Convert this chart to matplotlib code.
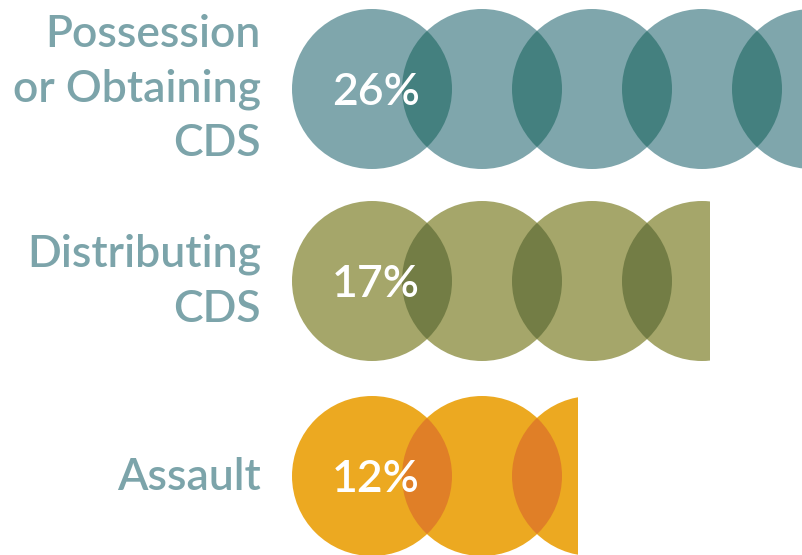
import matplotlib.pyplot as plt
from matplotlib.patches import Circle, Rectangle

# data
categories = ["Possession\nor Obtaining\nCDS", "Distributing\nCDS", "Assault"]
values = [26, 17, 12]
value_labels = ["26%", "17%", "12%"]

base_colors = ["#7fa6ac", "#a5a66a", "#eca921"]
overlap_colors = ["#44807f", "#737d45", "#e07f27"]
label_color = "#7ca4aa"

# layout, in percent units (1 unit = 26.4 px)
PX = 26.4
R = 80 / PX          # circle radius
STEP = 110 / PX      # distance between circle centres
X0 = 111 / PX        # first circle centre
row_y = [89 / PX, 281 / PX, 476 / PX]

fig = plt.figure(figsize=(8.02, 5.55), dpi=100)
ax = fig.add_axes([0, 0, 1, 1])
ax.set_xlim(-261 / PX, (802 - 261) / PX)
ax.set_ylim(555 / PX, 0)
ax.set_aspect("equal")
ax.axis("off")

for cat, val, txt, y, c, oc in zip(categories, values, value_labels, row_y,
                                   base_colors, overlap_colors):
    clip = Rectangle((0, y - R - 1), val, 2 * R + 2, transform=ax.transData)
    centers = []
    cx = X0
    while cx - R < val:
        centers.append(cx)
        cx += STEP
    prev = None
    for cx in centers:
        circ = Circle((cx, y), R, fc=c, ec="none", zorder=1)
        ax.add_patch(circ)
        circ.set_clip_path(clip)
        if prev is not None:
            lens = Circle((cx, y), R, fc=oc, ec="none", zorder=2)
            ax.add_patch(lens)
            lens.set_clip_path(clip)
            lens.set_clip_path(prev)
        prev = circ

    # va="baseline" sits on the last line here
    n = cat.count("\n")
    last_base = y + (14 + n * 53 / 2) / PX
    ax.text(0, last_base, cat, ha="right", va="baseline", fontsize=32,
            family="Lato", fontweight="semibold", color=label_color,
            linespacing=1.4, multialignment="right")
    ax.text(X0 + 4 / PX, y + 16 / PX, txt, ha="center", va="baseline",
            fontsize=32, family="Lato", fontweight="semibold", color="white",
            zorder=3)

fig.savefig("out.png", dpi=100)
